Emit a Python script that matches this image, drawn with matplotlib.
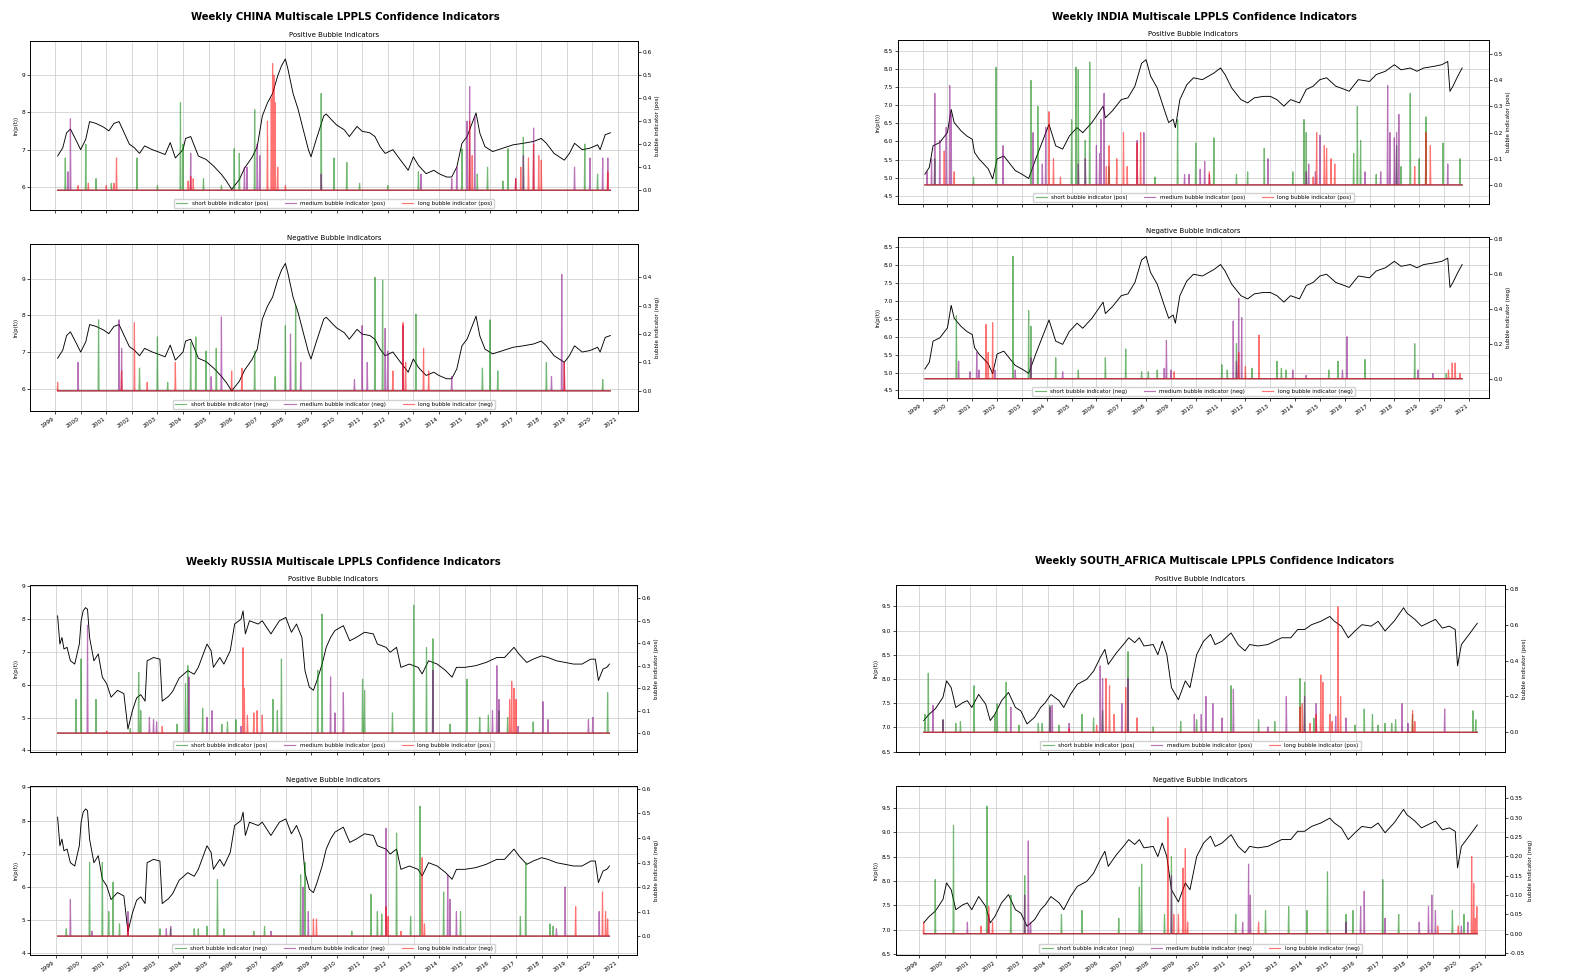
import matplotlib
matplotlib.use("Agg")
import matplotlib.pyplot as plt
import numpy as np
from matplotlib.ticker import FormatStrFormatter

# ---------------- data (decimal year, value) ----------------
years = list(range(1999, 2022))
year_labels = [str(y) for y in years]

cn_price = [(1999.10,6.83),(1999.30,7.05),(1999.45,7.45),(1999.60,7.55),(1999.80,7.28),(2000.00,7.00),(2000.20,7.28),(2000.35,7.75),(2000.60,7.70),(2000.90,7.60),(2001.10,7.50),(2001.30,7.70),(2001.50,7.75),(2001.70,7.45),(2001.90,7.15),(2002.10,7.05),(2002.30,6.90),(2002.50,7.10),(2002.80,7.00),(2003.00,6.95),(2003.30,6.87),(2003.50,7.19),(2003.70,6.78),(2004.00,7.00),(2004.10,7.30),(2004.30,7.35),(2004.60,6.83),(2004.90,6.74),(2005.20,6.56),(2005.50,6.34),(2005.70,6.16),(2005.90,5.94),(2006.20,6.20),(2006.40,6.50),(2006.70,6.80),(2006.90,7.08),(2007.10,7.90),(2007.30,8.25),(2007.50,8.50),(2007.70,8.97),(2007.85,9.24),(2008.00,9.42),(2008.10,9.15),(2008.30,8.50),(2008.50,8.07),(2008.70,7.53),(2008.90,7.00),(2009.00,6.81),(2009.20,7.26),(2009.50,7.90),(2009.60,7.95),(2009.80,7.80),(2010.00,7.66),(2010.30,7.53),(2010.50,7.35),(2010.80,7.62),(2011.00,7.49),(2011.30,7.45),(2011.50,7.35),(2011.70,7.08),(2011.90,6.90),(2012.20,7.00),(2012.50,6.72),(2012.80,6.45),(2013.00,6.81),(2013.20,6.58),(2013.50,6.36),(2013.80,6.45),(2014.00,6.36),(2014.30,6.27),(2014.50,6.27),(2014.70,6.54),(2014.90,7.17),(2015.10,7.35),(2015.30,7.71),(2015.45,7.98),(2015.60,7.44),(2015.80,7.08),(2016.10,6.95),(2016.50,7.04),(2016.90,7.13),(2017.30,7.17),(2017.70,7.22),(2018.00,7.30),(2018.20,7.17),(2018.50,6.90),(2018.90,6.72),(2019.10,6.90),(2019.30,7.17),(2019.60,7.00),(2019.90,7.04),(2020.20,7.13),(2020.30,7.00),(2020.50,7.40),(2020.70,7.45)]
cn_pos_short = [(1999.4,.14),(2000.2,.20),(2000.6,.05),(2001.2,.03),(2002.2,.14),(2003.0,.02),(2003.9,.38),(2004.0,.20),(2004.8,.05),(2005.5,.02),(2006.0,.18),(2006.2,.16),(2006.8,.35),(2009.4,.42),(2009.9,.14),(2010.4,.12),(2010.9,.03),(2012.0,.02),(2013.2,.08),(2014.9,.18),(2015.5,.07),(2015.9,.10),(2016.5,.04),(2016.7,.18),(2017.3,.23),(2019.7,.20),(2020.2,.07)]
cn_pos_medium = [(1999.5,.08),(1999.6,.31),(2004.3,.16),(2006.4,.10),(2006.5,.10),(2006.9,.20),(2007.0,.15),(2009.4,.07),(2013.3,.07),(2014.5,.05),(2014.7,.10),(2015.1,.30),(2015.2,.45),(2015.4,.32),(2017.0,.05),(2017.3,.15),(2017.7,.27),(2019.3,.10),(2019.9,.14),(2020.4,.14),(2020.6,.14)]
cn_pos_long = [(1999.9,.02),(2000.3,.03),(2001.0,.02),(2001.3,.03),(2001.4,.14),(2004.2,.04),(2004.3,.06),(2004.4,.05),(2007.3,.30),(2007.45,.40),(2007.5,.55),(2007.55,.50),(2007.6,.38),(2007.7,.10),(2008.0,.02),(2015.2,.30),(2015.3,.15),(2017.0,.05),(2017.2,.10),(2017.5,.14),(2017.7,.20),(2017.9,.15),(2018.0,.13),(2020.6,.08)]
cn_neg_short = [(2000.7,.25),(2002.3,.08),(2003.0,.19),(2003.4,.03),(2004.3,.17),(2004.5,.19),(2004.9,.14),(2005.3,.15),(2006.8,.14),(2007.6,.05),(2008.0,.23),(2008.4,.30),(2011.5,.40),(2011.8,.39),(2013.1,.27),(2015.7,.08),(2016.0,.25),(2016.3,.07),(2018.2,.10),(2020.4,.04)]
cn_neg_medium = [(1999.9,.10),(2001.5,.25),(2001.6,.15),(2005.1,.05),(2005.5,.26),(2008.2,.20),(2008.6,.10),(2010.7,.04),(2011.0,.23),(2011.2,.10),(2011.9,.22),(2012.0,.14),(2012.6,.23),(2014.5,.05),(2018.4,.05),(2018.8,.41),(2018.9,.10)]
cn_neg_long = [(1999.1,.03),(2001.6,.07),(2002.1,.24),(2002.6,.03),(2003.7,.10),(2005.9,.07),(2006.3,.08),(2012.2,.07),(2012.6,.24),(2012.7,.10),(2013.4,.15),(2013.6,.07),(2018.9,.10)]

in_price = [(1999.09,5.10),(1999.27,5.29),(1999.42,5.88),(1999.69,5.97),(2000.00,6.25),(2000.15,6.88),(2000.27,6.52),(2000.55,6.29),(2000.78,6.15),(2001.00,6.06),(2001.09,5.70),(2001.27,5.52),(2001.64,5.25),(2001.82,4.97),(2002.00,5.52),(2002.27,5.60),(2002.73,5.20),(2003.00,5.10),(2003.27,4.98),(2003.60,5.60),(2003.91,6.15),(2004.09,6.47),(2004.36,5.88),(2004.64,5.79),(2004.91,6.15),(2005.22,6.38),(2005.45,6.24),(2005.82,6.52),(2006.09,6.79),(2006.27,6.97),(2006.36,6.65),(2006.64,6.84),(2007.00,7.15),(2007.27,7.20),(2007.55,7.52),(2007.82,8.15),(2008.00,8.25),(2008.18,7.80),(2008.45,7.47),(2008.73,6.88),(2008.91,6.52),(2009.09,6.61),(2009.18,6.38),(2009.36,7.15),(2009.64,7.56),(2009.91,7.75),(2010.27,7.70),(2010.73,7.88),(2011.00,8.02),(2011.18,7.84),(2011.45,7.47),(2011.82,7.15),(2012.09,7.06),(2012.36,7.20),(2012.73,7.24),(2013.00,7.24),(2013.27,7.15),(2013.55,6.97),(2013.82,7.15),(2014.18,7.06),(2014.45,7.43),(2014.73,7.52),(2015.00,7.70),(2015.27,7.75),(2015.64,7.52),(2016.00,7.43),(2016.18,7.38),(2016.55,7.70),(2017.00,7.65),(2017.27,7.84),(2017.64,7.93),(2018.00,8.11),(2018.27,7.97),(2018.64,8.02),(2018.91,7.93),(2019.18,8.02),(2019.55,8.06),(2019.91,8.11),(2020.15,8.20),(2020.24,7.38),(2020.36,7.52),(2020.55,7.79),(2020.73,8.02)]
in_pos_short = [(1999.49,.10),(2001.05,.03),(2001.96,.45),(2003.36,.40),(2003.64,.30),(2005.0,.25),(2005.18,.45),(2005.27,.44),(2005.55,.17),(2005.73,.47),(2006.51,.07),(2008.36,.03),(2009.27,.25),(2010.0,.16),(2010.73,.18),(2011.64,.04),(2012.09,.05),(2012.76,.14),(2013.91,.05),(2014.36,.25),(2014.45,.20),(2016.36,.12),(2016.51,.30),(2016.64,.17),(2017.27,.04),(2018.09,.15),(2018.27,.07),(2018.64,.35),(2019.0,.10),(2019.27,.26),(2019.96,.16),(2020.64,.10)]
in_pos_medium = [(1999.18,.05),(1999.36,.10),(1999.49,.35),(1999.69,.17),(1999.95,.22),(2000.09,.38),(2000.15,.27),(2002.24,.15),(2003.45,.20),(2003.82,.08),(2003.96,.22),(2005.27,.08),(2005.55,.10),(2006.0,.15),(2006.13,.12),(2006.18,.25),(2006.31,.35),(2007.64,.17),(2007.91,.20),(2009.55,.04),(2009.73,.04),(2010.18,.06),(2010.36,.09),(2010.55,.04),(2012.91,.10),(2014.45,.05),(2014.55,.08),(2014.82,.05),(2015.0,.19),(2016.82,.05),(2017.45,.05),(2017.73,.38),(2017.82,.20),(2018.0,.18),(2018.09,.20),(2018.18,.27),(2020.15,.08)]
in_pos_long = [(1999.87,.13),(2000.27,.05),(2004.09,.28),(2004.27,.10),(2004.55,.03),(2006.4,.07),(2006.51,.15),(2006.82,.10),(2007.09,.20),(2007.24,.07),(2007.64,.16),(2007.78,.20),(2010.55,.05),(2014.73,.03),(2014.87,.20),(2015.18,.15),(2015.27,.14),(2015.45,.10),(2015.6,.08),(2018.82,.07),(2019.27,.20),(2019.45,.15)]
in_neg_short = [(2000.36,.36),(2002.64,.70),(2003.27,.39),(2003.36,.30),(2004.36,.12),(2005.27,.05),(2006.36,.12),(2007.18,.17),(2007.82,.04),(2008.09,.04),(2008.45,.05),(2011.05,.08),(2011.27,.05),(2011.64,.20),(2012.27,.06),(2013.27,.10),(2013.45,.06),(2013.64,.05),(2015.36,.05),(2015.73,.10),(2016.82,.11),(2018.82,.20),(2020.09,.03)]
in_neg_medium = [(2000.45,.10),(2000.91,.04),(2001.18,.15),(2001.27,.05),(2001.91,.05),(2002.73,.05),(2003.36,.12),(2004.64,.04),(2008.73,.06),(2008.82,.22),(2009.0,.05),(2011.51,.33),(2011.64,.10),(2011.73,.46),(2011.85,.35),(2013.91,.05),(2014.45,.02),(2015.91,.05),(2016.09,.24),(2018.95,.05),(2019.55,.03)]
in_neg_long = [(2001.55,.31),(2001.64,.15),(2001.82,.32),(2009.13,.04),(2011.73,.15),(2012.0,.07),(2012.55,.25),(2020.18,.05),(2020.33,.09),(2020.45,.09),(2020.64,.03)]

ru_price = [(1999.08,8.10),(1999.17,7.24),(1999.25,7.44),(1999.33,7.09),(1999.45,7.14),(1999.58,6.73),(1999.75,6.63),(1999.93,7.24),(2000.00,7.95),(2000.08,8.25),(2000.17,8.35),(2000.25,8.30),(2000.33,7.44),(2000.50,6.73),(2000.67,6.94),(2000.83,6.23),(2001.00,6.03),(2001.17,5.62),(2001.42,5.83),(2001.67,5.73),(2001.83,4.65),(2002.00,5.20),(2002.17,5.60),(2002.33,5.70),(2002.50,5.50),(2002.58,6.73),(2002.83,6.83),(2003.08,6.78),(2003.17,5.50),(2003.42,5.65),(2003.58,5.80),(2003.83,6.20),(2004.17,6.43),(2004.42,6.32),(2004.58,6.53),(2004.92,7.24),(2005.08,7.04),(2005.17,6.53),(2005.42,6.83),(2005.58,6.63),(2005.83,7.04),(2006.00,7.85),(2006.25,8.00),(2006.33,8.25),(2006.42,7.55),(2006.58,7.95),(2006.92,7.85),(2007.08,7.95),(2007.42,7.55),(2007.75,7.95),(2008.00,8.05),(2008.22,7.60),(2008.42,7.85),(2008.63,7.44),(2008.75,6.43),(2008.92,5.93),(2009.08,5.83),(2009.22,6.13),(2009.42,6.63),(2009.58,7.14),(2009.75,7.44),(2009.92,7.65),(2010.25,7.80),(2010.50,7.34),(2010.75,7.44),(2011.08,7.60),(2011.42,7.55),(2011.58,7.24),(2011.92,7.14),(2012.08,6.99),(2012.33,7.14),(2012.50,6.53),(2012.83,6.63),(2013.17,6.53),(2013.33,6.33),(2013.58,6.73),(2013.92,6.63),(2014.25,6.43),(2014.50,6.23),(2014.67,6.53),(2015.00,6.53),(2015.42,6.58),(2015.83,6.68),(2016.25,6.83),(2016.55,6.83),(2016.92,7.14),(2017.12,6.93),(2017.42,6.68),(2017.67,6.78),(2018.00,6.88),(2018.25,6.83),(2018.58,6.73),(2018.92,6.68),(2019.25,6.63),(2019.58,6.63),(2019.92,6.78),(2020.10,6.78),(2020.22,6.13),(2020.40,6.48),(2020.55,6.53),(2020.65,6.63)]
ru_pos_short = [(1999.8,.15),(2000.0,.33),(2000.58,.15),(2001.92,.02),(2002.25,.27),(2002.33,.10),(2003.75,.04),(2004.08,.22),(2004.17,.30),(2004.75,.11),(2005.5,.04),(2005.72,.05),(2006.05,.06),(2007.5,.15),(2007.67,.10),(2007.83,.33),(2009.25,.28),(2009.42,.53),(2011.0,.24),(2011.08,.19),(2012.17,.09),(2013.0,.57),(2013.5,.38),(2013.75,.42),(2014.42,.04),(2015.08,.24),(2015.58,.07),(2015.92,.08),(2016.33,.10),(2016.67,.07),(2017.67,.05),(2020.58,.18)]
ru_pos_medium = [(2000.25,.48),(2002.67,.07),(2002.83,.06),(2002.95,.05),(2004.22,.25),(2004.92,.07),(2005.12,.10),(2006.25,.03),(2009.75,.25),(2009.92,.09),(2010.25,.18),(2013.75,.28),(2016.08,.10),(2016.25,.30),(2016.33,.15),(2017.08,.03),(2018.05,.14),(2018.25,.06),(2019.83,.06),(2020.0,.07)]
ru_pos_long = [(2001.0,.01),(2003.17,.03),(2006.33,.38),(2006.38,.20),(2006.5,.08),(2006.75,.09),(2006.88,.10),(2007.08,.08),(2016.75,.15),(2016.83,.23),(2016.92,.20),(2017.0,.15)]
ru_neg_short = [(1999.42,.03),(2000.33,.30),(2000.83,.30),(2001.08,.10),(2001.25,.22),(2001.5,.05),(2003.08,.03),(2003.5,.03),(2004.42,.03),(2004.58,.03),(2004.92,.04),(2005.33,.23),(2005.58,.03),(2006.75,.02),(2007.17,.04),(2008.58,.25),(2008.75,.30),(2010.58,.02),(2011.33,.17),(2011.58,.10),(2011.75,.09),(2012.33,.42),(2012.88,.08),(2013.25,.53),(2014.17,.18),(2014.83,.10),(2017.17,.08),(2017.38,.30),(2018.33,.05),(2018.45,.04)]
ru_neg_medium = [(1999.58,.15),(2000.42,.02),(2001.83,.10),(2003.33,.03),(2003.5,.04),(2007.42,.02),(2008.67,.20),(2008.88,.10),(2011.92,.44),(2014.33,.25),(2014.42,.15),(2014.67,.10),(2018.58,.03),(2018.92,.20),(2020.25,.10)]
ru_neg_long = [(2001.83,.05),(2009.08,.07),(2009.2,.07),(2011.92,.12),(2012.0,.08),(2012.5,.02),(2013.33,.32),(2013.42,.05),(2019.33,.12),(2020.38,.18),(2020.5,.10),(2020.58,.07)]

za_price = [(1999.18,7.14),(1999.39,7.27),(1999.63,7.38),(1999.93,7.62),(2000.07,7.96),(2000.25,7.82),(2000.43,7.41),(2000.70,7.51),(2000.88,7.55),(2001.05,7.41),(2001.32,7.68),(2001.59,7.48),(2001.77,7.14),(2001.95,7.27),(2002.21,7.55),(2002.48,7.72),(2002.75,7.41),(2002.96,7.34),(2003.20,7.07),(2003.50,7.21),(2003.73,7.41),(2003.91,7.51),(2004.13,7.68),(2004.45,7.55),(2004.63,7.41),(2004.89,7.68),(2005.16,7.89),(2005.52,7.99),(2005.79,8.16),(2006.05,8.44),(2006.23,8.61),(2006.36,8.30),(2006.68,8.54),(2006.95,8.71),(2007.16,8.85),(2007.39,8.75),(2007.57,8.85),(2007.75,8.68),(2008.11,8.71),(2008.29,8.50),(2008.46,8.78),(2008.64,8.50),(2008.82,7.82),(2009.09,7.57),(2009.36,7.96),(2009.54,7.82),(2009.80,8.50),(2010.07,8.78),(2010.34,8.92),(2010.52,8.71),(2010.79,8.78),(2011.14,8.95),(2011.41,8.71),(2011.68,8.58),(2011.86,8.71),(2012.18,8.68),(2012.57,8.71),(2012.84,8.78),(2013.11,8.85),(2013.46,8.85),(2013.73,9.02),(2014.00,9.02),(2014.27,9.12),(2014.63,9.19),(2014.98,9.29),(2015.16,9.19),(2015.43,9.09),(2015.70,8.85),(2015.96,8.99),(2016.23,9.12),(2016.59,9.09),(2016.86,9.19),(2017.13,8.99),(2017.48,9.19),(2017.85,9.47),(2017.98,9.36),(2018.29,9.23),(2018.55,9.09),(2018.82,9.16),(2019.09,9.23),(2019.36,9.05),(2019.63,9.09),(2019.86,9.02),(2019.95,8.27),(2020.10,8.71),(2020.40,8.92),(2020.72,9.15)]
za_pos_short = [(1999.23,.10),(1999.36,.33),(1999.93,.07),(2000.43,.05),(2000.61,.06),(2001.14,.26),(2001.95,.10),(2002.04,.16),(2002.39,.28),(2002.89,.04),(2003.64,.05),(2003.79,.05),(2004.09,.15),(2004.45,.04),(2005.34,.10),(2005.79,.08),(2006.14,.12),(2007.13,.45),(2008.11,.03),(2009.18,.06),(2009.8,.07),(2011.14,.26),(2012.21,.07),(2012.84,.06),(2013.82,.30),(2014.0,.28),(2014.36,.08),(2015.96,.04),(2016.32,.13),(2016.64,.10),(2016.86,.04),(2017.13,.05),(2017.39,.05),(2017.54,.07),(2018.2,.10),(2020.55,.12),(2020.66,.07)]
za_pos_medium = [(1999.54,.15),(1999.93,.07),(2002.57,.14),(2004.09,.14),(2004.18,.15),(2004.84,.05),(2006.05,.37),(2006.14,.30),(2006.89,.16),(2007.13,.30),(2009.71,.10),(2009.98,.10),(2010.16,.20),(2010.43,.16),(2010.79,.08),(2011.23,.24),(2012.57,.03),(2013.29,.20),(2014.0,.20),(2014.45,.16),(2015.21,.09),(2015.61,.08),(2017.79,.16),(2018.02,.05),(2019.45,.13)]
za_pos_long = [(2004.84,.02),(2005.91,.04),(2006.27,.30),(2006.41,.26),(2006.59,.10),(2007.04,.25),(2007.48,.08),(2013.82,.14),(2013.91,.16),(2014.21,.05),(2014.45,.10),(2014.63,.32),(2014.71,.28),(2014.98,.10),(2015.07,.06),(2015.3,.70),(2015.4,.20),(2018.2,.12),(2018.29,.06)]
za_neg_short = [(1999.63,.14),(2000.34,.28),(2001.64,.33),(2002.57,.10),(2003.11,.15),(2004.54,.05),(2005.34,.06),(2006.77,.04),(2007.57,.12),(2007.66,.18),(2008.55,.05),(2008.82,.20),(2011.32,.05),(2012.48,.06),(2013.38,.07),(2014.09,.06),(2014.89,.16),(2015.61,.05),(2015.88,.06),(2017.04,.14),(2017.66,.05),(2019.75,.06),(2020.2,.05)]
za_neg_medium = [(2000.88,.03),(2001.71,.05),(2003.11,.10),(2003.25,.24),(2003.34,.03),(2008.82,.15),(2011.59,.03),(2011.82,.18),(2011.89,.10),(2015.61,.03),(2016.18,.07),(2016.32,.11),(2017.13,.04),(2018.46,.03),(2018.82,.07),(2018.95,.10),(2019.09,.06),(2020.1,.02),(2020.35,.03)]
za_neg_long = [(1999.18,.03),(2001.41,.02),(2001.71,.07),(2001.86,.03),(2008.68,.30),(2008.91,.05),(2009.09,.05),(2009.27,.17),(2009.36,.22),(2009.45,.03),(2012.21,.03),(2019.18,.02),(2019.98,.02),(2020.5,.20),(2020.58,.13),(2020.64,.04),(2020.7,.07)]

countries = ["CHINA", "INDIA", "RUSSIA", "SOUTH_AFRICA"]

# ---------------- drawing ----------------
W, H = 1573, 977
fig = plt.figure(figsize=(W / 100, H / 100), dpi=100)

def frac(l, r, top, bot):
    return [l / W, 1 - bot / H, (r - l) / W, (bot - top) / H]

panels = {
    "CHINA": dict(
        title_xy=(345, 17),
        boxes=[frac(30, 638, 41, 210), frac(30, 638, 244, 411)],
        price=cn_price,
        series=[(cn_pos_short, cn_pos_medium, cn_pos_long), (cn_neg_short, cn_neg_medium, cn_neg_long)],
        lylim=[(5.39, 9.9), (5.39, 9.95)], lticks=[6, 7, 8, 9],
        rylim=[(-0.086, 0.648), (-0.071, 0.517)],
        rticks=[np.arange(0, 0.61, 0.1), np.arange(0, 0.41, 0.1)], rfmt=["%.1f", "%.1f"]),
    "INDIA": dict(
        title_xy=(1205, 17),
        boxes=[frac(898, 1489, 40, 204), frac(898, 1489, 237, 398)],
        price=in_price,
        series=[(in_pos_short, in_pos_medium, in_pos_long), (in_neg_short, in_neg_medium, in_neg_long)],
        lylim=[(4.28, 8.79), (4.29, 8.79)], lticks=np.arange(4.5, 8.51, 0.5),
        rylim=[(-0.073, 0.554), (-0.11, 0.81)],
        rticks=[np.arange(0, 0.51, 0.1), np.arange(0, 0.81, 0.2)], rfmt=["%.1f", "%.1f"]),
    "RUSSIA": dict(
        title_xy=(343, 562),
        boxes=[frac(30, 637, 585, 752), frac(30, 637, 786, 955)],
        price=ru_price,
        series=[(ru_pos_short, ru_pos_medium, ru_pos_long), (ru_neg_short, ru_neg_medium, ru_neg_long)],
        lylim=[(3.95, 9.04), (3.95, 9.04)], lticks=[4, 5, 6, 7, 8, 9],
        rylim=[(-0.084, 0.659), (-0.077, 0.612)],
        rticks=[np.arange(0, 0.61, 0.1), np.arange(0, 0.61, 0.1)], rfmt=["%.1f", "%.1f"]),
    "SOUTH_AFRICA": dict(
        title_xy=(1215, 561),
        boxes=[frac(896, 1505, 585, 752), frac(896, 1505, 786, 955)],
        price=za_price,
        series=[(za_pos_short, za_pos_medium, za_pos_long), (za_neg_short, za_neg_medium, za_neg_long)],
        lylim=[(6.49, 9.94), (6.48, 9.95)], lticks=np.arange(6.5, 9.51, 0.5),
        rylim=[(-0.11, 0.822), (-0.055, 0.382)],
        rticks=[np.arange(0, 0.81, 0.2), np.arange(-0.05, 0.351, 0.05)], rfmt=["%.1f", "%.2f"]),
}

colors = ["green", "purple", "red"]
names = ["short", "medium", "long"]

def spike_line(pairs, t0, t1, w=0.018):
    xs, ys = [t0], [0.0]
    for t, h in sorted(pairs):
        xs += [t - w, t, t + w]
        ys += [0.0, h, 0.0]
    xs.append(t1)
    ys.append(0.0)
    return xs, ys

for c in countries:
    p = panels[c]
    tx, ty = p["title_xy"]
    fig.text(tx / W, 1 - ty / H, f"Weekly {c} Multiscale LPPLS Confidence Indicators",
             ha="center", va="center", fontsize=7.3, fontweight="bold")
    pt = [a for a, b in p["price"]]
    pv = [b for a, b in p["price"]]
    t0, t1 = pt[0], pt[-1]
    for k, kind in enumerate(["pos", "neg"]):
        ax = fig.add_axes(p["boxes"][k])
        ax.plot(pt, pv, color="black", lw=0.65, zorder=3)
        ax.set_ylim(*p["lylim"][k])
        ax.set_yticks(p["lticks"])
        ax.set_xticks(years)
        ax.grid(True, color="#c8c8c8", lw=0.5)
        ax.set_ylabel("ln(p(t))", fontsize=4, labelpad=2)
        ax.tick_params(labelsize=4.2, length=2, width=0.5, pad=1.5)
        ax.set_title("Positive Bubble Indicators" if kind == "pos" else "Negative Bubble Indicators",
                     fontsize=5, pad=3)
        if kind == "pos":
            ax.set_xticklabels([])
        else:
            ax.set_xticklabels(year_labels, rotation=35, ha="right", fontsize=4.2)
        for s in ax.spines.values():
            s.set_linewidth(0.6)
        ax2 = ax.twinx()
        handles = []
        for j in range(3):
            xs, ys = spike_line(p["series"][k][j], t0, t1)
            h, = ax2.plot(xs, ys, color=colors[j], lw=0.85, alpha=0.55,
                          label=f"{names[j]} bubble indicator ({kind})")
            handles.append(h)
        ax2.set_ylim(*p["rylim"][k])
        ax2.set_yticks(p["rticks"][k])
        ax2.yaxis.set_major_formatter(FormatStrFormatter(p["rfmt"][k]))
        ax2.tick_params(labelsize=4.2, length=2, width=0.5, pad=1.5)
        ax2.set_ylabel(f"bubble indicator ({kind})", fontsize=4, labelpad=2)
        for s in ax2.spines.values():
            s.set_linewidth(0.6)
        ax.set_xlim(t0 - 0.05 * (t1 - t0), t1 + 0.05 * (t1 - t0))
        ax2.legend(handles=handles, loc="lower center", ncol=3, fontsize=4,
                   frameon=True, framealpha=0.9, edgecolor="#cccccc",
                   handlelength=2, borderpad=0.4, columnspacing=3.0,
                   borderaxespad=0.3)

fig.savefig("out.png", dpi=100)
